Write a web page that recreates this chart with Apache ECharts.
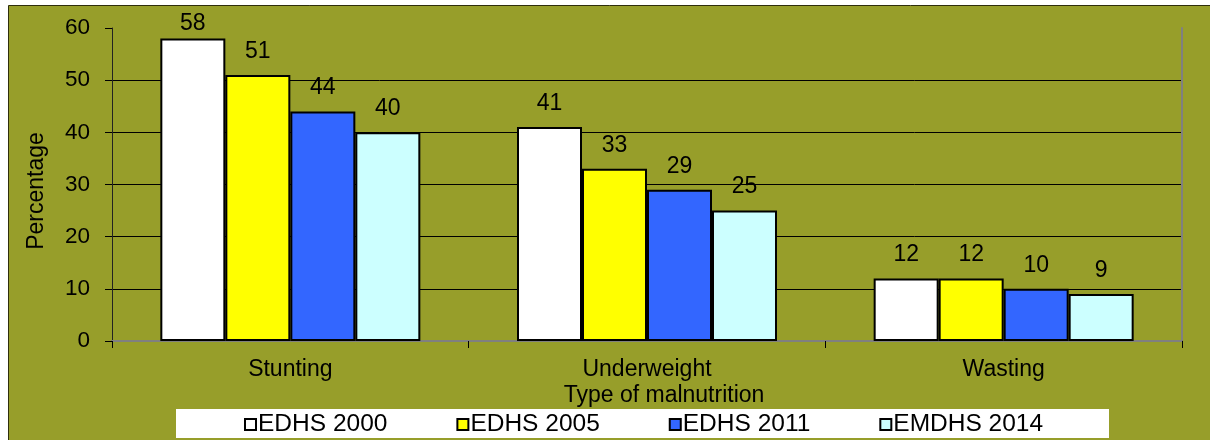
<!DOCTYPE html>
<html>
<head>
<meta charset="utf-8">
<script src="https://cdn.jsdelivr.net/npm/echarts@6/dist/echarts.min.js"></script>
<style>
  html, body { margin: 0; padding: 0; background: #ffffff; }
  #chart { width: 1210px; height: 440px; }
</style>
</head>
<body>
<div id="chart"></div>
<script>
// Malnutrition prevalence by survey round
const categories = ['Stunting', 'Underweight', 'Wasting'];
const seriesNames = ['EDHS 2000', 'EDHS 2005', 'EDHS 2011', 'EMDHS 2014'];
const edhs2000 = [58, 41, 12];
const edhs2005 = [51, 33, 12];
const edhs2011 = [44, 29, 10];
const emdhs2014 = [40, 25, 9];
const yTicks = [0, 10, 20, 30, 40, 50, 60];

const values = [edhs2000, edhs2005, edhs2011, emdhs2014];
const colors = ['#ffffff', '#ffff00', '#3366ff', '#ccffff'];
const olive = '#979e2a';
const font = 'Liberation Sans, Arial, sans-serif';
const yMax = yTicks[yTicks.length - 1];

const chart = echarts.init(document.getElementById('chart'));

const series = values.map((vals, i) => ({
  name: seriesNames[i],
  type: 'bar',
  barWidth: 65,
  barGap: '0%',
  itemStyle: { color: colors[i], borderColor: '#000000', borderWidth: 2 },
  label: {
    show: true,
    position: 'top',
    distance: 12,
    color: '#000000',
    fontFamily: font,
    fontSize: 23
  },
  // labels near the top of the plot are pulled down to stay inside it
  data: vals.map(v => (v > 55 ? { value: v, label: { distance: 3 } } : v))
}));

chart.setOption({
  animation: false,
  backgroundColor: 'transparent',
  textStyle: { fontFamily: font },
  grid: { left: 112, right: 28, top: 28, bottom: 99 },
  graphic: [
    {
      type: 'rect', z: -100, silent: true,
      shape: { x: 8.5, y: 5.5, width: 1300, height: 500 },
      style: { fill: olive, stroke: '#2e2e0c', lineWidth: 1 }
    },
    {
      type: 'rect', z: -50, silent: true,
      shape: { x: 176, y: 409, width: 933, height: 29 },
      style: { fill: '#ffffff' }
    },
    {
      type: 'text', silent: true,
      x: 37, y: 191, rotation: Math.PI / 2,
      style: {
        text: 'Percentage', fill: '#000000', font: '23px ' + font,
        align: 'center', verticalAlign: 'middle'
      }
    },
    {
      type: 'text', silent: true,
      x: 664, y: 396,
      style: {
        text: 'Type of malnutrition', fill: '#000000', font: '23px ' + font,
        align: 'center', verticalAlign: 'middle'
      }
    }
  ],
  legend: {
    data: seriesNames,
    left: 244,
    top: 412,
    padding: 0,
    itemWidth: 11,
    itemHeight: 11,
    itemGap: 69,
    icon: 'rect',
    itemStyle: { borderColor: '#000000', borderWidth: 2 },
    textStyle: { color: '#000000', fontFamily: font, fontSize: 24.5, padding: [0, 0, 0, -3] }
  },
  xAxis: [
    {
      type: 'category',
      data: categories,
      position: 'bottom',
      axisLine: { lineStyle: { color: '#404040', width: 2 } },
      axisTick: { show: true, length: 7, lineStyle: { color: '#000000', width: 1 } },
      axisLabel: { color: '#000000', fontFamily: font, fontSize: 23, margin: 17 },
      splitLine: { show: false }
    },
    {
      type: 'category',
      data: categories,
      position: 'top',
      axisLine: { lineStyle: { color: '#808080', width: 2 } },
      axisTick: { show: false },
      axisLabel: { show: false },
      splitLine: { show: false }
    }
  ],
  yAxis: [
    {
      type: 'value',
      min: 0,
      max: yMax,
      interval: 10,
      position: 'left',
      axisLine: { show: true, lineStyle: { color: '#222222', width: 1 } },
      axisTick: { show: true, length: 7, lineStyle: { color: '#000000' } },
      axisLabel: {
        color: '#000000', fontFamily: font, fontSize: 22.5, margin: 22,
        formatter: v => (yTicks.indexOf(v) >= 0 ? String(v) : '')
      },
      splitLine: { show: true, showMaxLine: false, lineStyle: { color: '#000000', width: 1 } }
    },
    {
      type: 'value',
      min: 0,
      max: yMax,
      interval: 10,
      position: 'right',
      axisLine: { show: true, lineStyle: { color: '#808080', width: 2 } },
      axisTick: { show: false },
      axisLabel: { show: false },
      splitLine: { show: false }
    }
  ],
  series: series
});
</script>
</body>
</html>
